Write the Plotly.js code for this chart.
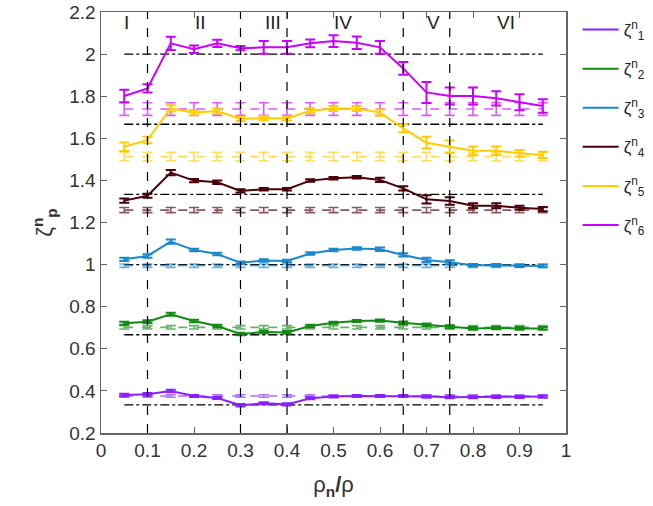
<!DOCTYPE html>
<html>
<head>
<meta charset="utf-8">
<script src="https://cdn.plot.ly/plotly-3.0.1.min.js"></script>
<style>html,body{margin:0;padding:0;background:#fff;}#chart{width:653px;height:506px;}</style>
</head>
<body>
<div id="chart"></div>
<script>
// ---- data ----
const rhoRatio = [0.05,0.1,0.15,0.2,0.25,0.3,0.35,0.4,0.45,0.5,0.55,0.6,0.65,0.7,0.75,0.8,0.85,0.9,0.95];

const zeta1 = [0.381,0.384,0.400,0.376,0.366,0.332,0.341,0.336,0.365,0.373,0.376,0.376,0.376,0.373,0.370,0.370,0.371,0.371,0.373];
const zeta2 = [0.721,0.729,0.764,0.732,0.708,0.670,0.680,0.678,0.708,0.724,0.732,0.734,0.724,0.713,0.705,0.697,0.699,0.697,0.697];
const zeta3 = [1.025,1.041,1.109,1.069,1.050,1.009,1.019,1.017,1.053,1.069,1.077,1.073,1.046,1.022,1.011,0.997,0.997,0.995,0.993];
const zeta4 = [1.304,1.327,1.437,1.399,1.391,1.350,1.358,1.358,1.399,1.410,1.415,1.402,1.362,1.310,1.302,1.280,1.280,1.270,1.264];
const zeta5 = [1.560,1.592,1.742,1.722,1.730,1.692,1.696,1.694,1.731,1.742,1.742,1.722,1.647,1.579,1.560,1.541,1.541,1.529,1.521];
const zeta6 = [1.801,1.837,2.051,2.023,2.051,2.028,2.032,2.032,2.051,2.062,2.054,2.032,1.932,1.818,1.801,1.801,1.790,1.771,1.753];

const err1 = [0.006,0.006,0.006,0.005,0.005,0.006,0.005,0.005,0.005,0.004,0.004,0.004,0.004,0.005,0.005,0.005,0.005,0.005,0.005];
const err2 = [0.007,0.007,0.007,0.006,0.006,0.006,0.006,0.006,0.006,0.005,0.005,0.005,0.006,0.007,0.007,0.006,0.006,0.006,0.006];
const err3 = [0.008,0.008,0.010,0.006,0.006,0.006,0.006,0.006,0.006,0.006,0.006,0.008,0.008,0.010,0.010,0.006,0.006,0.006,0.006];
const err4 = [0.010,0.010,0.012,0.008,0.008,0.008,0.006,0.006,0.006,0.006,0.006,0.010,0.010,0.020,0.018,0.012,0.012,0.010,0.010];
const err5 = [0.020,0.015,0.015,0.012,0.012,0.010,0.010,0.010,0.012,0.012,0.012,0.015,0.018,0.028,0.030,0.020,0.020,0.015,0.015];
const err6 = [0.030,0.020,0.032,0.018,0.017,0.010,0.030,0.030,0.018,0.028,0.030,0.030,0.030,0.050,0.040,0.040,0.034,0.038,0.032];

// reference (dashed) exponents, constant across rho_n/rho
const refZeta = [0.376,0.702,0.995,1.259,1.513,1.739];
const refErr  = [0.006,0.008,0.008,0.012,0.020,0.030];

// K41 n/3 lines
const k41 = [1/3,2/3,1,4/3,5/3,2];
const k41X = [0.05,0.95];

// region boundaries and labels
const regionBounds = [0.1,0.3,0.4,0.65,0.75];
const regionLabels = ['I','II','III','IV','V','VI'];
const regionLabelX = [0.054,0.213,0.369,0.52,0.714,0.872];

const names = ['ζ<sup>n</sup><sub>1</sub>','ζ<sup>n</sup><sub>2</sub>','ζ<sup>n</sup><sub>3</sub>','ζ<sup>n</sup><sub>4</sub>','ζ<sup>n</sup><sub>5</sub>','ζ<sup>n</sup><sub>6</sub>'];
const colors = ['#8a1eff','#138a13','#1a88cc','#4a0008','#ffcc00','#cc00ff'];

// ---- traces ----
const solid = [zeta1,zeta2,zeta3,zeta4,zeta5,zeta6];
const errs = [err1,err2,err3,err4,err5,err6];
const traces = [];

// K41 dash-dot lines
k41.forEach(v => {
  traces.push({x:k41X, y:k41X.map(()=>v), mode:'lines', showlegend:false, hoverinfo:'skip',
    line:{color:'#000', width:1.3, dash:'dashdot'}});
});

// dashed reference series
refZeta.forEach((v,i) => {
  traces.push({x:rhoRatio, y:rhoRatio.map(()=>v), mode:'lines', showlegend:false, opacity:0.65,
    line:{color:colors[i], width:1.6, dash:'dash'},
    error_y:{type:'data', array:rhoRatio.map(()=>refErr[i]), color:colors[i], thickness:1.6, width:5}});
});

// solid measured series
solid.forEach((s,i) => {
  traces.push({x:rhoRatio, y:s, mode:'lines', name:names[i], legendgroup:'g'+i,
    line:{color:colors[i], width:2},
    error_y:{type:'data', array:errs[i], color:colors[i], thickness:2, width:5}});
});

// ---- layout ----
const shapes = regionBounds.map(b => ({type:'line', xref:'x', yref:'paper', x0:b, x1:b, y0:0, y1:1,
  line:{color:'#000', width:1.2, dash:'dash'}}));

const annotations = regionLabels.map((t,i) => ({text:t, x:regionLabelX[i], y:2.148, xref:'x', yref:'y',
  showarrow:false, font:{size:19, color:'#222'}}));

const axisCommon = {showgrid:false, zeroline:false, showline:true, linecolor:'#666', linewidth:1.5,
  mirror:'ticks', ticks:'inside', ticklen:6, tickcolor:'#666', tickfont:{size:19, color:'#333'}};

const layout = {
  width:653, height:506,
  margin:{l:101, r:87, t:12, b:73, autoexpand:false},
  paper_bgcolor:'#fff', plot_bgcolor:'#fff',
  font:{family:'Liberation Sans, Arial, sans-serif', color:'#333'},
  xaxis:Object.assign({}, axisCommon, {range:[0,1], tick0:0, dtick:0.1,
    title:{text:'ρ<sub><b>n</b></sub><b>/</b>ρ', font:{size:22, color:'#333'}, standoff:16}}),
  yaxis:Object.assign({}, axisCommon, {range:[0.2,2.2], tick0:0.2, dtick:0.2,
    title:{text:'ζ<sup><b>n</b></sup><sub><b>p</b></sub>', font:{size:22, color:'#333'}, standoff:10}}),
  legend:{x:1.025, xanchor:'left', y:1.0, yanchor:'top', font:{size:17, color:'#222'},
    bgcolor:'rgba(0,0,0,0)', traceorder:'grouped', tracegroupgap:14, itemwidth:36},
  shapes:shapes,
  annotations:annotations,
  showlegend:true
};

Plotly.newPlot('chart', traces, layout, {staticPlot:true});
</script>
</body>
</html>
